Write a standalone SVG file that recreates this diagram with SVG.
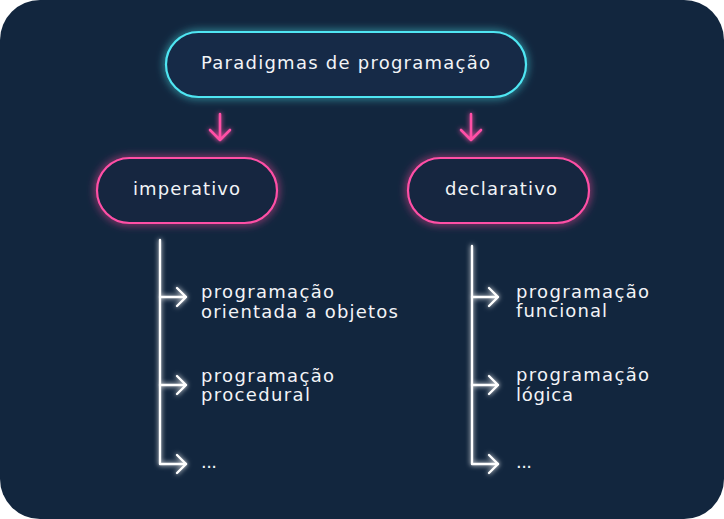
<svg xmlns="http://www.w3.org/2000/svg" width="724" height="519" viewBox="0 0 724 519">
<defs>
<style>
text{font-family:"DejaVu Sans","Liberation Sans",sans-serif;font-size:18px;fill:#f2f4f7;}
.cy{fill:#152c46;stroke:#4fe6f3;stroke-width:2.2;}
.pk{fill:#13273f;stroke:#ff4fa6;stroke-width:2.2;}
.pa{fill:none;stroke:#ff4fa6;stroke-width:2.6;stroke-linecap:round;stroke-linejoin:round;}
.wl{fill:none;stroke:#ffffff;stroke-width:2.4;stroke-linecap:round;stroke-linejoin:round;}
</style>
<filter id="gc" x="-20%" y="-40%" width="140%" height="180%">
<feGaussianBlur in="SourceGraphic" stdDeviation="4" result="b"/>
<feMerge><feMergeNode in="b"/><feMergeNode in="SourceGraphic"/></feMerge>
</filter>
<filter id="gw" x="-20%" y="-20%" width="140%" height="140%">
<feGaussianBlur in="SourceGraphic" stdDeviation="2.5" result="b"/>
<feMerge><feMergeNode in="b"/><feMergeNode in="SourceGraphic"/></feMerge>
</filter>
</defs>
<rect width="724" height="519" fill="#ffffff"/>
<rect width="724" height="519" rx="40" fill="#12263e"/>
<g id="root">
<rect class="cy" x="166" y="32" width="360" height="65" rx="32.5" filter="url(#gc)"/>
<text x="201" y="69" textLength="289" lengthAdjust="spacing">Paradigmas de programação</text>
</g>
<g id="imperativo">
<rect class="pk" x="97" y="158" width="180" height="65" rx="32.5" filter="url(#gc)"/>
<text x="133" y="195" textLength="107" lengthAdjust="spacing">imperativo</text>
</g>
<g id="declarativo">
<rect class="pk" x="408" y="158" width="181" height="65" rx="32.5" filter="url(#gc)"/>
<text x="445" y="195" textLength="112" lengthAdjust="spacing">declarativo</text>
</g>
<g id="connectors">
<g filter="url(#gw)">
<path class="pa" d="M220 114V140M210 130L220 140L230 130"/>
<path class="pa" d="M471 114V140M461 130L471 140L481 130"/>
</g>
<g filter="url(#gw)">
<path class="wl" d="M160 240V464H186"/>
<path class="wl" d="M160 297H186M177 288L186 297L177 306"/>
<path class="wl" d="M160 385H186M177 376L186 385L177 394"/>
<path class="wl" d="M177 455L186 464L177 473"/>
<path class="wl" d="M472 246V464H498"/>
<path class="wl" d="M472 297H498M489 288L498 297L489 306"/>
<path class="wl" d="M472 385H498M489 376L498 385L489 394"/>
<path class="wl" d="M489 455L498 464L489 473"/>
</g>
</g>
<g id="imp-oo">
<text x="201" y="298" textLength="133" lengthAdjust="spacing">programação</text>
<text x="201" y="318" textLength="197" lengthAdjust="spacing">orientada a objetos</text>
</g>
<g id="imp-proc">
<text x="201" y="382" textLength="133" lengthAdjust="spacing">programação</text>
<text x="201" y="401" textLength="109" lengthAdjust="spacing">procedural</text>
</g>
<g id="imp-more">
<text x="201" y="468" textLength="16" lengthAdjust="spacing">...</text>
</g>
<g id="dec-func">
<text x="516" y="298" textLength="133" lengthAdjust="spacing">programação</text>
<text x="516" y="317" textLength="91" lengthAdjust="spacing">funcional</text>
</g>
<g id="dec-log">
<text x="516" y="381" textLength="133" lengthAdjust="spacing">programação</text>
<text x="516" y="401" textLength="57" lengthAdjust="spacing">lógica</text>
</g>
<g id="dec-more">
<text x="516" y="468" textLength="16" lengthAdjust="spacing">...</text>
</g>
</svg>
